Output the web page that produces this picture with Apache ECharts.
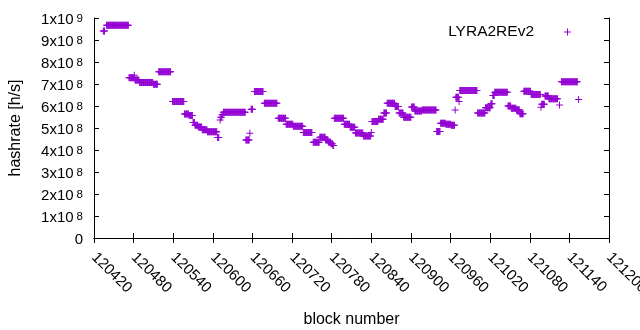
<!DOCTYPE html>
<html><head><meta charset="utf-8">
<script src="https://cdn.jsdelivr.net/npm/echarts@6.0.0/dist/echarts.min.js"></script>
<style>html,body{margin:0;padding:0;background:#fff}#c{width:640px;height:330px}</style>
</head><body><div id="c"></div>
<script>
// ---- data ----
const seriesName = 'LYRA2REv2';
// runs of consecutive blocks that share the same hashrate (x10^8 h/s)
const runFirst = [120434,120439,120473,120481,120482,120489,120510,120518,120539,120557,
  120564,120570,120573,120578,120584,120592,120607,120611,120612,120614,
  120616,120650,120656,120658,120663,120678,120699,120711,120722,120737,
  120752,120762,120771,120775,120779,120782,120784,120799,120808,120816,
  120828,120840,120841,120851,120859,120864,120876,120882,120889,120901,
  120906,120917,120939,120945,120953,120961,120967,120968,120973,120974,
  121001,121013,121021,121024,121027,121047,121052,121060,121065,121071,
  121082,121097,121098,121103,121109,121125,121128,121154];
const runLast = [120436,120472,120480,120481,120488,120509,120516,120536,120556,120563,
  120569,120572,120577,120583,120591,120606,120609,120611,120613,120615,
  120649,120655,120656,120660,120676,120697,120710,120721,120736,120750,
  120761,120770,120774,120778,120781,120783,120798,120807,120815,120827,
  120839,120840,120850,120858,120863,120875,120881,120888,120900,120905,
  120916,120938,120944,120952,120960,120966,120967,120972,120973,121000,
  121012,121020,121023,121026,121046,121051,121059,121064,121070,121081,
  121096,121097,121102,121108,121122,121125,121152,121154];
const runRate = [9.41,9.67,7.28,7.40,7.18,7.07,6.99,7.56,6.20,5.64,
  5.57,5.25,5.12,5.04,4.92,4.83,4.57,5.36,5.49,5.60,
  5.72,4.45,4.76,5.85,6.66,6.12,5.44,5.17,5.08,4.80,
  4.35,4.58,4.45,4.36,4.28,4.20,5.44,5.17,5.03,4.77,
  4.64,4.80,5.30,5.40,5.68,6.12,5.98,5.68,5.49,5.95,
  5.77,5.82,4.84,5.22,5.17,5.12,5.82,6.40,6.20,6.70,
  5.68,5.92,6.10,6.48,6.62,6.00,5.90,5.83,5.65,6.67,
  6.52,5.94,6.08,6.45,6.33,6.05,7.10,6.30];
const rateUnit = 1e8;
const xRange = [120420, 121200], xStep = 60;
const yRange = [0, 1e9], yStep = 1e8;
const xTitle = 'block number';
const yTitle = 'hashrate [h/s]';

// ---- build ----
const points = [];
for (let i = 0; i < runFirst.length; i++) {
  for (let b = runFirst[i]; b <= runLast[i]; b++) points.push([b, runRate[i] * rateUnit]);
}
const FONT = 'Liberation Sans, Arial, sans-serif';
const COLOR = '#9400d3';
const plus = 'path://M0,3H7V4H0Z M3,0H4V7H3Z';

function yLabel(v) {
  if (v === 0) return '{m|0}';
  const e = Math.floor(Math.log10(v) + 1e-9);
  const c = Math.round(v / Math.pow(10, e));
  return '{m|' + c + 'x10}{s|' + e + '}';
}
const rich = {
  m: {fontFamily: FONT, fontSize: 15, color: '#000', lineHeight: 15, verticalAlign: 'bottom'},
  s: {fontFamily: FONT, fontSize: 11.5, color: '#000', lineHeight: 11, verticalAlign: 'top', padding: [0, 0, 8, 3]}
};
const axisLineStyle = {show: true, lineStyle: {color: '#000', width: 1}};
const tick = {show: true, inside: true, length: 5, lineStyle: {color: '#000', width: 1}};

const chart = echarts.init(document.getElementById('c'), null, {renderer: 'canvas'});
chart.setOption({
  animation: false,
  backgroundColor: '#fff',
  grid: {left: 94, right: 31, top: 18, bottom: 92, containLabel: false, outerBoundsMode: 'none'},
  legend: {
    right: 69, top: 24, padding: 0, align: 'right', itemWidth: 7, itemHeight: 7,
    data: [{name: seriesName, icon: plus}],
    textStyle: {fontFamily: FONT, fontSize: 15.5, color: '#000', padding: [0, 25, 0, 0]}
  },
  xAxis: [{
    type: 'value', min: xRange[0], max: xRange[1], interval: xStep,
    axisLine: axisLineStyle, axisTick: tick, splitLine: {show: false},
    axisLabel: {rotate: -45, margin: 17, fontFamily: FONT, fontSize: 15, color: '#000',
      formatter: v => String(v)},
    name: xTitle, nameLocation: 'middle', nameGap: 74,
    nameTextStyle: {fontFamily: FONT, fontSize: 16, color: '#000'}
  }, {
    type: 'value', position: 'top', min: xRange[0], max: xRange[1], interval: xStep,
    axisLine: axisLineStyle, axisTick: tick, axisLabel: {show: false}, splitLine: {show: false}
  }],
  yAxis: [{
    type: 'value', min: yRange[0], max: yRange[1], interval: yStep,
    axisLine: axisLineStyle, axisTick: tick, splitLine: {show: false},
    axisLabel: {margin: 11, formatter: yLabel, rich: rich, padding: [4, 0, 0, 0]},
    name: yTitle, nameLocation: 'middle', nameGap: 70, nameRotate: 90,
    nameTextStyle: {fontFamily: FONT, fontSize: 16, color: '#000'}
  }, {
    type: 'value', position: 'right', min: yRange[0], max: yRange[1], interval: yStep,
    axisLine: axisLineStyle, axisTick: tick, axisLabel: {show: false}, splitLine: {show: false}
  }],
  series: [{
    name: seriesName, type: 'scatter', xAxisIndex: 0, yAxisIndex: 0,
    symbol: plus, symbolSize: 7, data: points,
    itemStyle: {color: COLOR, opacity: 1},
    emphasis: {disabled: true}, silent: true
  }]
});
</script></body></html>
